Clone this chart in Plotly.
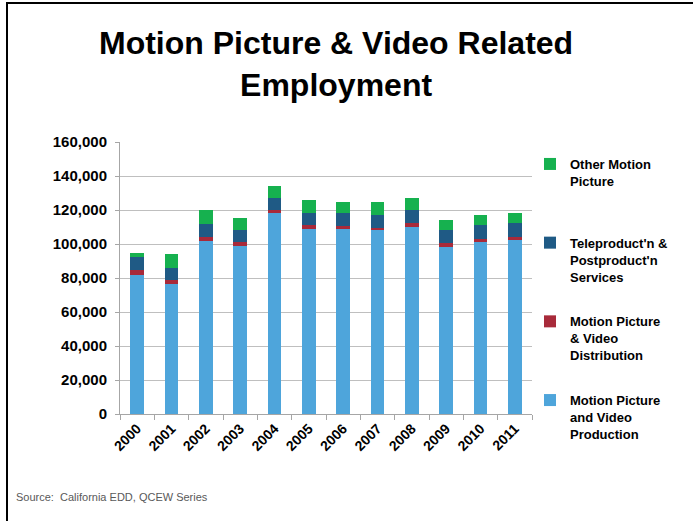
import plotly.graph_objects as go

years = ["2000", "2001", "2002", "2003", "2004", "2005", "2006", "2007", "2008", "2009", "2010", "2011"]
production = [81500, 76200, 101900, 99100, 118200, 109100, 108600, 108000, 110100, 98500, 100900, 102300]
distribution = [3100, 2700, 2100, 1800, 1700, 1800, 1700, 1700, 2000, 2000, 2000, 1700]
teleproduction = [8000, 7100, 7700, 7100, 6900, 7500, 7700, 7500, 7800, 7900, 8200, 8300]
other = [2400, 8000, 8200, 7400, 7300, 7200, 7000, 7300, 6900, 6000, 5700, 5700]

series_names = [
    "Motion Picture<br>and Video<br>Production",
    "Motion Picture<br>& Video<br>Distribution",
    "Teleproduct'n &<br>Postproduct'n<br>Services",
    "Other Motion<br>Picture<br> ",
]
series_values = [production, distribution, teleproduction, other]
series_colors = ["#4EA5DB", "#A82A3A", "#1F5A85", "#16B14F"]
legend_ranks = [4, 3, 2, 1]

FONT = "Arial, Liberation Sans, sans-serif"

fig = go.Figure()
for i, (name, vals, col, rk) in enumerate(zip(series_names, series_values, series_colors, legend_ranks)):
    fig.add_trace(go.Bar(
        x=years, y=vals, name=name, marker_color=col, marker_line_width=0,
        legendgroup=f"g{i}", legendrank=rk,
    ))

W, H = 693, 521
L, R, T, B = 120, 161, 142, 107
pw, ph = W - L - R, H - T - B

def px_x(p):
    return (p - L) / pw

def px_y(p):
    return (H - B - p) / ph

fig.update_layout(
    width=W, height=H,
    barmode="stack", bargap=0.61,
    paper_bgcolor="white", plot_bgcolor="white",
    margin=dict(l=L, r=R, t=T, b=B, autoexpand=False),
    font=dict(family=FONT, color="#000000"),
    legend=dict(
        x=px_x(530), y=px_y(149), xanchor="left", yanchor="top",
        traceorder="grouped", tracegroupgap=25, valign="top",
        font=dict(family=FONT, size=13, color="#000000", weight="bold"),
        itemwidth=30, bgcolor="rgba(0,0,0,0)", maxheight=420,
    ),
    showlegend=True,
    xaxis=dict(
        type="category", showgrid=False, showline=True, linecolor="#A6A6A6", linewidth=1,
        ticks="outside", tickson="boundaries", ticklen=5, tickcolor="#A6A6A6",
        tickangle=-45, tickfont=dict(family=FONT, size=14, color="#000000", weight="bold"),
    ),
    yaxis=dict(
        range=[0, 160000], dtick=20000, tickformat=",d",
        showgrid=True, gridcolor="#BFBFBF", gridwidth=1,
        showline=True, linecolor="#A6A6A6", linewidth=1,
        ticks="outside", ticklen=4, tickcolor="#A6A6A6", ticklabelstandoff=5,
        tickfont=dict(family=FONT, size=15, color="#000000", weight="bold"),
        zeroline=False,
    ),
    annotations=[
        dict(
            text="Motion Picture & Video Related<br>Employment",
            x=px_x(336), y=px_y(23), xref="paper", yref="paper",
            xanchor="center", yanchor="top", showarrow=False, align="center",
            font=dict(family=FONT, size=32, color="#000000", weight="bold"),
        ),
        dict(
            text="Source:  California EDD, QCEW Series",
            x=px_x(14), y=px_y(497), xref="paper", yref="paper",
            xanchor="left", yanchor="middle", showarrow=False,
            font=dict(family=FONT, size=11, color="#595959"),
        ),
    ],
    shapes=[
        dict(type="line", xref="paper", yref="paper",
             x0=px_x(7), x1=px_x(7), y0=px_y(3), y1=px_y(H + 2),
             line=dict(color="#000000", width=2)),
        dict(type="line", xref="paper", yref="paper",
             x0=px_x(6), x1=px_x(W + 2), y0=px_y(3), y1=px_y(3),
             line=dict(color="#000000", width=2)),
    ],
)

fig.write_html(
    "out.html",
    config={"displayModeBar": False},
    post_script="document.body.style.margin='0';document.body.style.overflow='hidden';",
)
